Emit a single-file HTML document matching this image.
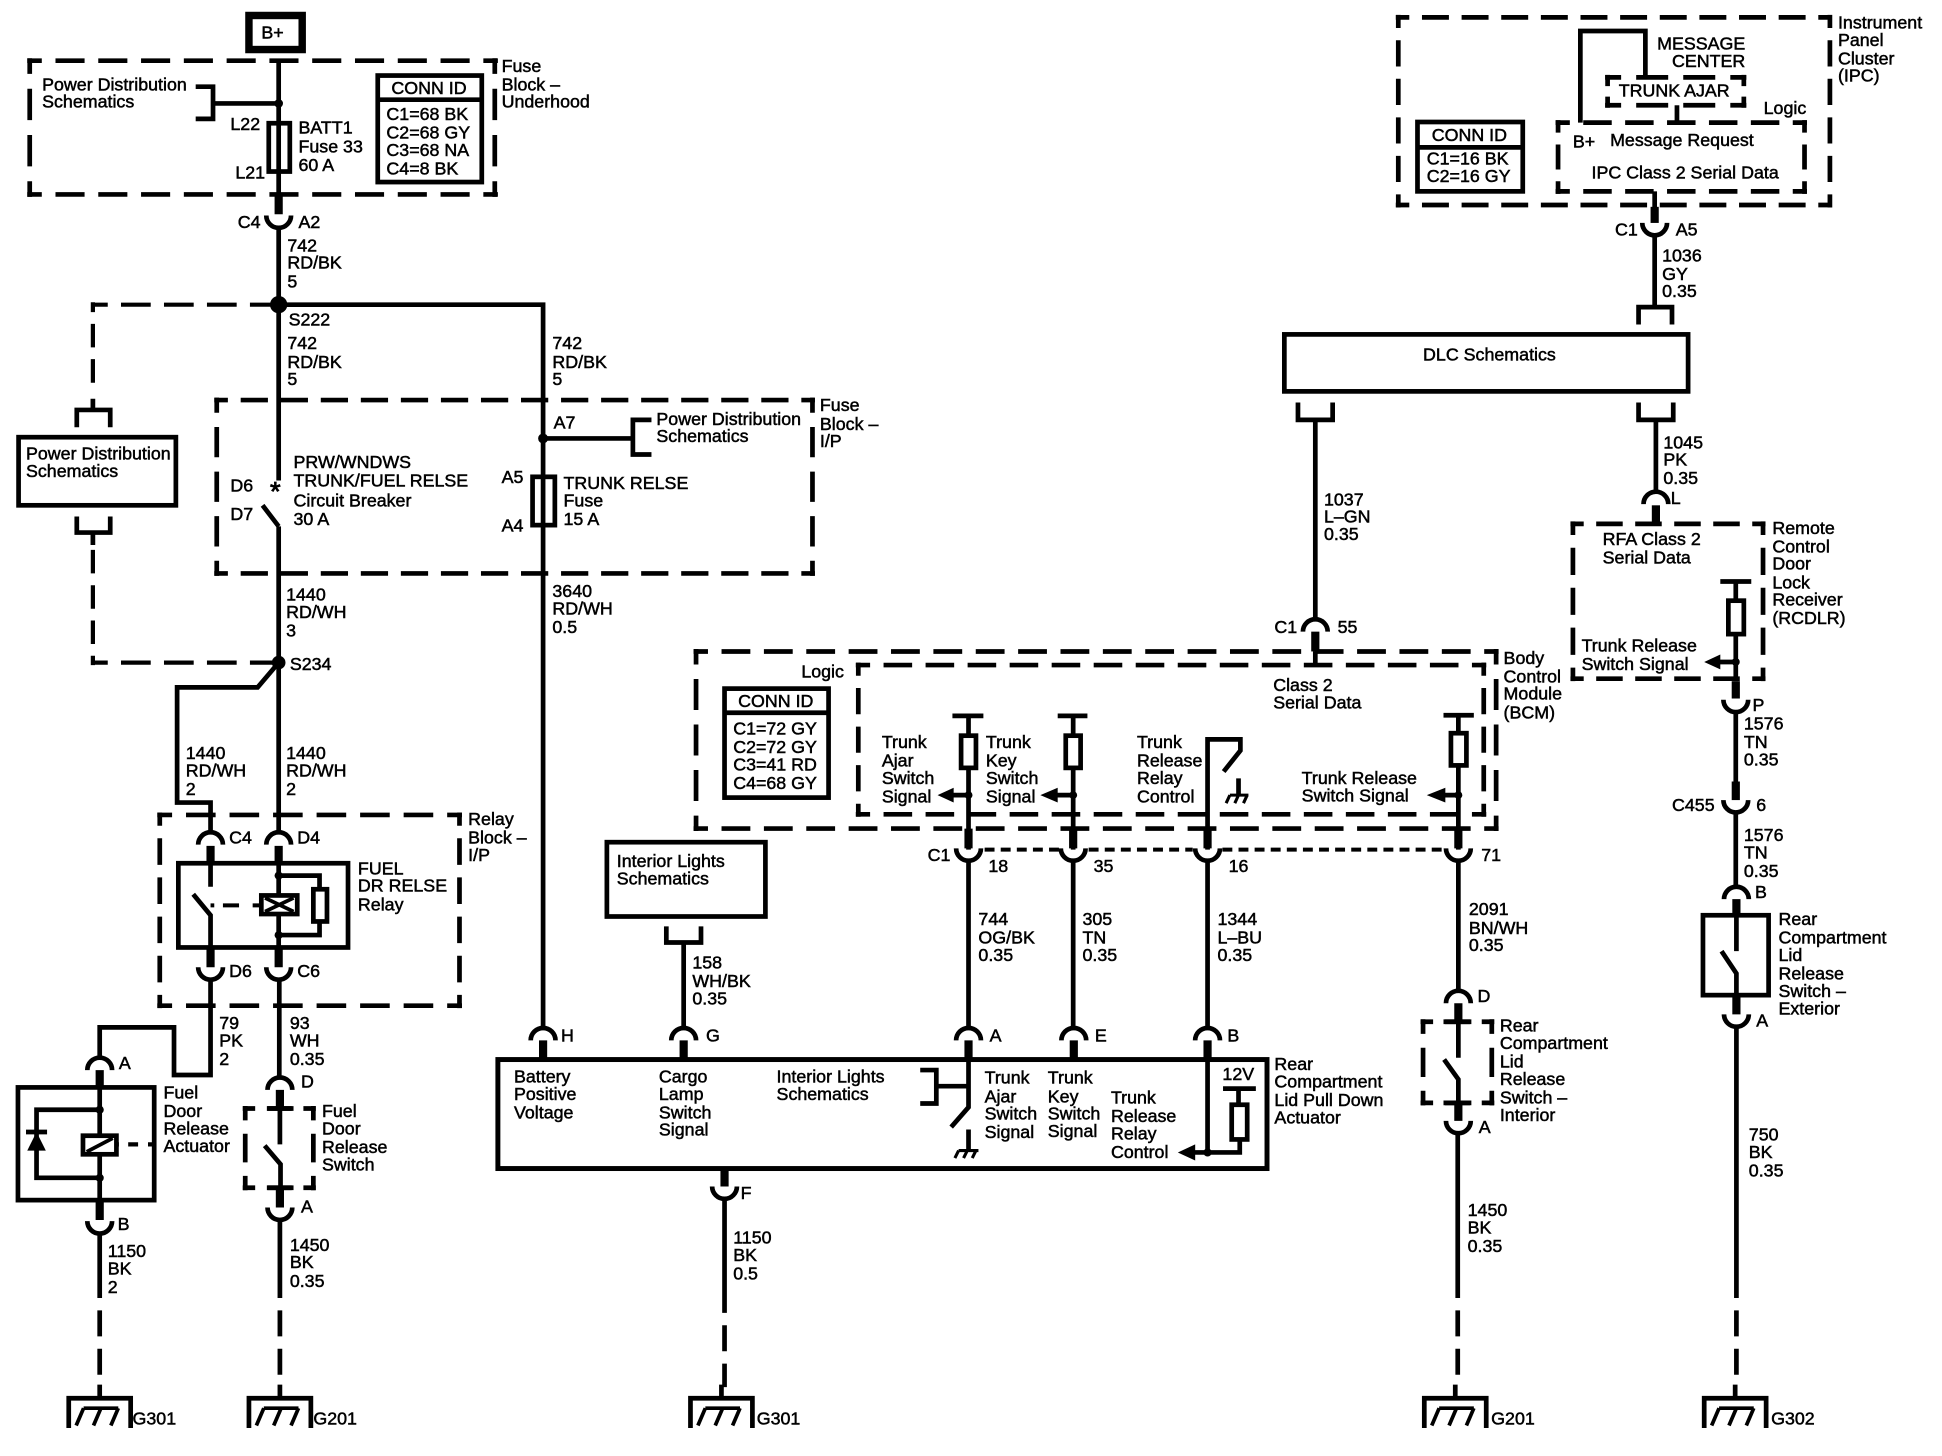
<!DOCTYPE html>
<html><head><meta charset="utf-8"><style>
html,body{margin:0;padding:0;background:#fff}
svg{display:block}
text{font-family:"Liberation Sans",sans-serif;font-size:14.4px;fill:#000;stroke:#000;stroke-width:.4}
.w{fill:none;stroke:#000;stroke-width:3.8}
.t{fill:none;stroke:#000;stroke-width:6.6}
.d{fill:none;stroke:#000;stroke-width:3.8;stroke-dasharray:.68 .32;stroke-dashoffset:.34}
.s{fill:none;stroke:#000;stroke-width:3}
.f{fill:#000;stroke:none}
.g{fill:none;stroke:#000;stroke-width:3.8;stroke-dasharray:21 10}
</style></head><body>
<svg width="1942" height="1456" viewBox="0 0 1568 1175.6" preserveAspectRatio="none" xmlns="http://www.w3.org/2000/svg">
<defs>
<path id="u" class="w" d="M-10,-4 A10,10 0 0 0 10,-4"/>
<path id="n" class="w" d="M-10,4 A10,10 0 0 1 10,4"/>
<g id="g"><path class="w" d="M0,1118V1129M-25,1153V1129H25V1153"/><path class="s" d="M-13,1137H15M-13,1137L-19,1151M1,1137L-5,1151M15,1137L9,1151"/></g>
</defs>
<rect width="1568" height="1176" fill="#fff"/>

<!-- B+ and fuse block -->
<rect x="201" y="12.5" width="43" height="27.5" class="w" style="stroke-width:6"/>
<text x="211" y="31">B+</text>
<path class="d" pathLength="11" d="M22,49H402"/><path class="d" pathLength="11" d="M22,157H402"/>
<path class="d" pathLength="3" d="M24,47V159"/><path class="d" pathLength="3" d="M399.5,47V159"/>
<path class="w" d="M225,49V160"/>
<path class="t" d="M225,157V173"/>
<use href="#u" x="225" y="178"/>
<path class="w" d="M225,183V246"/>
<text x="34" y="73">Power Distribution</text><text x="34" y="87">Schematics</text>
<path class="w" d="M158,70H172V96H158M172,83.5H225"/><circle class="f" cx="225" cy="83.5" r="3.5"/>
<text x="186" y="105">L22</text><text x="190" y="144">L21</text>
<rect x="217" y="99.5" width="17" height="39" class="w"/>
<text x="241" y="108">BATT1</text><text x="241" y="123">Fuse 33</text><text x="241" y="138">60 A</text>
<rect x="305" y="61" width="84" height="86" class="w"/><path class="w" d="M305,80.5H389"/>
<text x="316" y="76">CONN ID</text>
<text x="312" y="97">C1=68 BK</text><text x="312" y="112">C2=68 GY</text><text x="312" y="126">C3=68 NA</text><text x="312" y="141">C4=8 BK</text>
<text x="405" y="58">Fuse</text><text x="405" y="73">Block –</text><text x="405" y="87">Underhood</text>
<text x="192" y="184">C4</text><text x="241" y="184">A2</text>
<text x="232" y="203">742</text><text x="232" y="217">RD/BK</text><text x="232" y="232">5</text>

<!-- S222 -->
<circle class="f" cx="225" cy="246" r="7"/>
<path class="w" d="M225,246H438.5V831"/>
<path class="w" style="stroke-width:3.4;stroke-dasharray:24 10.7;stroke-dashoffset:12" d="M75,246H225"/>
<path class="w" style="stroke-width:3.4;stroke-dasharray:19 9.5;stroke-dashoffset:11" d="M75,244V313"/>
<path class="w" d="M75,322V331M62,345V331H89V345"/>
<rect x="15" y="353" width="127" height="55" class="w"/>
<text x="21" y="371">Power Distribution</text><text x="21" y="385">Schematics</text>
<path class="w" d="M62,417V430H89V417M75,430V440"/>
<path class="w" style="stroke-width:3.4;stroke-dasharray:19 9.5;stroke-dashoffset:-4" d="M75,440V537"/>
<path class="w" style="stroke-width:3.4;stroke-dasharray:24 10.7;stroke-dashoffset:12" d="M75,535H225"/>
<text x="233" y="263">S222</text>
<text x="232" y="282">742</text><text x="232" y="297">RD/BK</text><text x="232" y="311">5</text>
<text x="446" y="282">742</text><text x="446" y="297">RD/BK</text><text x="446" y="311">5</text>

<!-- Fuse block IP -->
<path class="d" pathLength="15" d="M173,323H658"/><path class="d" pathLength="15" d="M173,463H658"/>
<path class="d" pathLength="4" d="M175,321V465"/><path class="d" pathLength="4" d="M656,321V465"/>
<path class="w" d="M225,246V388M225,425V672M212,408L225,425"/>
<text x="218" y="404" style="font-size:22px;stroke-width:.7">*</text>
<text x="186" y="397">D6</text><text x="186" y="420">D7</text>
<text x="237" y="378">PRW/WNDWS</text><text x="237" y="393">TRUNK/FUEL RELSE</text><text x="237" y="409">Circuit Breaker</text><text x="237" y="424">30 A</text>
<text x="447" y="346">A7</text><circle class="f" cx="438.5" cy="354" r="4"/>
<path class="w" d="M438.5,354H511M526,339H511V367H526"/>
<text x="530" y="343">Power Distribution</text><text x="530" y="357">Schematics</text>
<text x="662" y="332">Fuse</text><text x="662" y="347">Block –</text><text x="662" y="361">I/P</text>
<text x="405" y="390">A5</text><text x="405" y="429">A4</text>
<rect x="430" y="385" width="18" height="39" class="w"/>
<text x="455" y="395">TRUNK RELSE</text><text x="455" y="409">Fuse</text><text x="455" y="424">15 A</text>
<text x="231" y="485">1440</text><text x="231" y="499">RD/WH</text><text x="231" y="514">3</text>
<text x="446" y="482">3640</text><text x="446" y="496">RD/WH</text><text x="446" y="511">0.5</text>

<!-- S234 -->
<circle class="f" cx="225" cy="535" r="5.5"/>
<path class="w" d="M225,535L208,555H143V648H170V672"/>
<text x="234" y="541">S234</text>
<text x="150" y="613">1440</text><text x="150" y="627">RD/WH</text><text x="150" y="642">2</text>
<text x="231" y="613">1440</text><text x="231" y="627">RD/WH</text><text x="231" y="642">2</text>

<!-- Relay -->
<path class="d" pathLength="7" d="M127,658H373"/><path class="d" pathLength="7" d="M127,812H373"/>
<path class="d" pathLength="5" d="M129,656V814"/><path class="d" pathLength="5" d="M371,656V814"/>
<text x="378" y="666">Relay</text><text x="378" y="681">Block –</text><text x="378" y="695">I/P</text>
<use href="#n" x="170" y="678"/><use href="#n" x="225" y="678"/>
<text x="185" y="681">C4</text><text x="240" y="681">D4</text>
<rect x="144" y="697" width="137" height="68" class="w"/>
<path class="t" d="M170,683V697M225,683V697M170,765V781M225,765V781"/>
<path class="w" d="M170,697V716M156,722L170,739V765M225,697V765"/>
<path class="w" style="stroke-width:3.2" d="M170,731H173M180,731H193M204,731H212"/>
<rect x="211" y="723" width="29" height="15" class="w" style="fill:#fff"/>
<path class="s" d="M214,725L237,736M214,736L237,725"/>
<path class="w" d="M225,707H258V718M258,744V755H225"/>
<rect x="253" y="718" width="11" height="26" class="w"/>
<circle class="f" cx="225" cy="707" r="3.3"/><circle class="f" cx="225" cy="755" r="3.3"/>
<text x="289" y="706">FUEL</text><text x="289" y="720">DR RELSE</text><text x="289" y="735">Relay</text>
<use href="#u" x="170" y="785"/><use href="#u" x="225" y="785"/>
<text x="185" y="789">D6</text><text x="240" y="789">C6</text>
<text x="177" y="831">79</text><text x="177" y="845">PK</text><text x="177" y="860">2</text>
<text x="234" y="831">93</text><text x="234" y="845">WH</text><text x="234" y="860">0.35</text>

<!-- Actuator -->
<path class="w" d="M170,791V868H140.5V829.5H80.5V854"/>
<use href="#n" x="80.5" y="860"/><text x="96" y="863">A</text>
<rect x="14.5" y="878" width="110" height="91" class="w"/>
<path class="t" d="M80.5,864V878M80.5,969V985"/>
<path class="w" d="M80.5,878V969M80.5,896H29.5V951H80.5"/>
<circle class="f" cx="80.5" cy="896" r="3.3"/><circle class="f" cx="80.5" cy="951" r="3.3"/>
<path class="w" d="M21,914H38"/><path class="f" d="M29.5,914L22,929H37Z"/>
<rect x="67" y="917" width="27" height="15" class="w" style="fill:#fff"/>
<path class="s" d="M70,930L91,919"/>
<path class="w" style="stroke-width:3.4" d="M94,924H96M103.5,924H111.5M119.5,924H125"/>
<text x="132" y="887">Fuel</text><text x="132" y="902">Door</text><text x="132" y="916">Release</text><text x="132" y="930">Actuator</text>
<use href="#u" x="80.5" y="990"/><text x="95" y="993">B</text>
<text x="87" y="1015">1150</text><text x="87" y="1029">BK</text><text x="87" y="1044">2</text>
<path class="w" d="M80.5,996V1048"/><path class="g" d="M80.5,1058V1120"/>
<use href="#g" x="80.5" y="0"/><text x="107" y="1150">G301</text>

<!-- Fuel door switch -->
<path class="w" d="M225.5,791V870"/>
<use href="#n" x="226" y="876"/><text x="243" y="878">D</text>
<path class="t" d="M226,880V895M226,959V975"/>
<path class="d" pathLength="2" d="M196,895H255"/><path class="d" pathLength="2" d="M196,959H255"/>
<path class="d" pathLength="2" d="M198,893V961"/><path class="d" pathLength="2" d="M253,893V961"/>
<path class="w" d="M216,895H237M216,959H237M226,895V924M213.7,925L226.5,940V959"/>
<text x="260" y="902">Fuel</text><text x="260" y="916">Door</text><text x="260" y="931">Release</text><text x="260" y="945">Switch</text>
<use href="#u" x="226" y="979"/><text x="243" y="979">A</text>
<text x="234" y="1010">1450</text><text x="234" y="1024">BK</text><text x="234" y="1039">0.35</text>
<path class="w" d="M226,985V1048"/><path class="g" d="M226,1058V1120"/>
<use href="#g" x="226" y="0"/><text x="253" y="1150">G201</text>

<!-- Interior lights box -->
<rect x="490" y="680" width="128" height="60" class="w"/>
<text x="498" y="700">Interior Lights</text><text x="498" y="714">Schematics</text>
<path class="w" d="M538,748V761H566V748M552,761V831"/>
<text x="559" y="782">158</text><text x="559" y="797">WH/BK</text><text x="559" y="811">0.35</text>

<!-- Actuator big box -->
<use href="#n" x="438.5" y="836"/><use href="#n" x="552" y="836"/><use href="#n" x="782" y="836"/><use href="#n" x="867" y="836"/><use href="#n" x="975" y="836"/>
<text x="453" y="841">H</text><text x="570" y="841">G</text><text x="799" y="841">A</text><text x="884" y="841">E</text><text x="991" y="841">B</text>
<rect x="402" y="855.5" width="621" height="88" class="w" style="stroke-width:4"/>
<path class="t" d="M438.5,840V855M552,840V855M782,840V855M867,840V855M975,840V855M585,944V958"/>
<text x="415" y="874">Battery</text><text x="415" y="888">Positive</text><text x="415" y="903">Voltage</text>
<text x="532" y="874">Cargo</text><text x="532" y="888">Lamp</text><text x="532" y="903">Switch</text><text x="532" y="917">Signal</text>
<text x="627" y="874">Interior Lights</text><text x="627" y="888">Schematics</text>
<path class="w" d="M743,864H756V891H743M756,877H782"/>
<path class="w" d="M782,855V894L768,910M782,912V929"/>
<path class="s" style="stroke-width:2.5" d="M774,929H790M774,929L771,935M781,929L778,935M788,929L785,935"/>
<text x="795" y="875">Trunk</text><text x="795" y="890">Ajar</text><text x="795" y="904">Switch</text><text x="795" y="919">Signal</text>
<text x="846" y="875">Trunk</text><text x="846" y="890">Key</text><text x="846" y="904">Switch</text><text x="846" y="918">Signal</text>
<text x="897" y="891">Trunk</text><text x="897" y="906">Release</text><text x="897" y="920">Relay</text><text x="897" y="935">Control</text>
<path class="w" d="M975,855V930.5M960,930.5H1001V920M1000,892V879M987.5,879H1014"/>
<path class="f" d="M951,930.5L965,924V937Z"/><circle class="f" cx="975" cy="930.5" r="3.3"/>
<rect x="994.5" y="892" width="12.5" height="28" class="w"/>
<text x="987" y="872">12V</text>
<text x="1029" y="864">Rear</text><text x="1029" y="878">Compartment</text><text x="1029" y="893">Lid Pull Down</text><text x="1029" y="907">Actuator</text>
<use href="#u" x="585" y="962"/><text x="598" y="968">F</text>
<path class="w" d="M585,968V1060"/><path class="g" d="M585,1070V1120"/>
<use href="#g" x="582.5" y="0"/><text x="611" y="1150">G301</text>
<text x="592" y="1004">1150</text><text x="592" y="1018">BK</text><text x="592" y="1033">0.5</text>

<!-- BCM -->
<path class="d" pathLength="19" d="M560,526H1210"/><path class="d" pathLength="19" d="M560,669H1210"/>
<path class="d" pathLength="4" d="M562,524V671"/><path class="d" pathLength="4" d="M1208,524V671"/>
<path class="d" pathLength="15" d="M691,537H1200"/><path class="d" pathLength="15" d="M691,657.5H1200"/>
<path class="d" pathLength="4" d="M693,535V659.5"/><path class="d" pathLength="4" d="M1198,535V659.5"/>
<text x="647" y="547">Logic</text>
<rect x="585" y="556" width="84" height="88" class="w"/><path class="w" d="M585,575.5H669"/>
<text x="596" y="571">CONN ID</text>
<text x="592" y="593">C1=72 GY</text><text x="592" y="608">C2=72 GY</text><text x="592" y="622">C3=41 RD</text><text x="592" y="637">C4=68 GY</text>
<text x="1028" y="558">Class 2</text><text x="1028" y="572">Serial Data</text>
<text x="1214" y="536">Body</text><text x="1214" y="551">Control</text><text x="1214" y="565">Module</text><text x="1214" y="580">(BCM)</text>
<text x="712" y="604">Trunk</text><text x="712" y="619">Ajar</text><text x="712" y="633">Switch</text><text x="712" y="648">Signal</text>
<text x="796" y="604">Trunk</text><text x="796" y="619">Key</text><text x="796" y="633">Switch</text><text x="796" y="648">Signal</text>
<text x="918" y="604">Trunk</text><text x="918" y="619">Release</text><text x="918" y="633">Relay</text><text x="918" y="648">Control</text>
<text x="1051" y="633">Trunk Release</text><text x="1051" y="647">Switch Signal</text>
<path class="w" d="M769,578H794M782,578V686M854,578H878M866.5,578V686M1165.5,577.5H1190M1177.5,577.5V686M975,686V597H1001.5V606L988,623"/>
<rect x="776" y="594" width="12" height="26" class="w" style="fill:#fff"/><rect x="860.5" y="594" width="12" height="26" class="w" style="fill:#fff"/><rect x="1171.5" y="592" width="12.5" height="26" class="w" style="fill:#fff"/>
<path class="w" d="M765,642H782M850,642H866.5M1162,642H1177.5M1000,628.5V642"/>
<path class="s" style="stroke-width:2.5" d="M993,642H1008M993,642L990,648.5M1000,642L997,648.5M1007,642L1004,648.5"/>
<path class="f" d="M757,642L770,636V648Z"/><path class="f" d="M840,642L854,636V648Z"/><path class="f" d="M1152,642L1167,636V648Z"/>
<circle class="f" cx="782" cy="642" r="3.2"/><circle class="f" cx="866.5" cy="642" r="3.2"/><circle class="f" cx="1177.5" cy="642" r="3.2"/>
<path class="t" d="M782,669V685M866.5,669V685M975,669V685M1177.5,669V685"/>
<use href="#u" x="782" y="689"/><use href="#u" x="866.5" y="689"/><use href="#u" x="975" y="689"/><use href="#u" x="1177.5" y="689"/>
<path class="s" style="stroke-dasharray:8 5;stroke-width:3.2" d="M795,686H855M879,686H963M987,686H1166"/>
<text x="749" y="695">C1</text><text x="798" y="704">18</text><text x="883" y="704">35</text><text x="992" y="704">16</text><text x="1196" y="695">71</text>
<path class="w" d="M782,695V831M866.5,695V831M975,695V831M1177.5,695V800"/>
<text x="790" y="747">744</text><text x="790" y="762">OG/BK</text><text x="790" y="776">0.35</text>
<text x="874" y="747">305</text><text x="874" y="762">TN</text><text x="874" y="776">0.35</text>
<text x="983" y="747">1344</text><text x="983" y="762">L–BU</text><text x="983" y="776">0.35</text>
<text x="1186" y="739">2091</text><text x="1186" y="754">BN/WH</text><text x="1186" y="768">0.35</text>

<!-- Rear compartment interior switch -->
<use href="#n" x="1177.5" y="806"/><text x="1193" y="809">D</text>
<path class="t" d="M1177.5,810V825M1177.5,891V905"/>
<path class="d" pathLength="2" d="M1147,825H1206.5"/><path class="d" pathLength="2" d="M1147,890.5H1206.5"/>
<path class="d" pathLength="2" d="M1149,823V892.5"/><path class="d" pathLength="2" d="M1204.5,823V892.5"/>
<path class="w" d="M1165.5,825H1188M1165.5,890.5H1188M1177.5,825V854M1166,855.5L1177.5,871.5V890.5"/>
<text x="1211" y="833">Rear</text><text x="1211" y="847">Compartment</text><text x="1211" y="862">Lid</text><text x="1211" y="876">Release</text><text x="1211" y="891">Switch –</text><text x="1211" y="905">Interior</text>
<use href="#u" x="1177.5" y="909"/><text x="1194" y="915">A</text>
<text x="1185" y="982">1450</text><text x="1185" y="996">BK</text><text x="1185" y="1011">0.35</text>
<path class="w" d="M1177,915V1048"/><path class="g" d="M1177,1058V1120"/>
<use href="#g" x="1175" y="0"/><text x="1204" y="1150">G201</text>

<!-- IPC -->
<path class="d" pathLength="11" d="M1127,14H1479"/><path class="d" pathLength="11" d="M1127,165.5H1479"/>
<path class="d" pathLength="5" d="M1129,12V167.5"/><path class="d" pathLength="5" d="M1477.5,12V167.5"/>
<text x="1484" y="23">Instrument</text><text x="1484" y="37">Panel</text><text x="1484" y="52">Cluster</text><text x="1484" y="66">(IPC)</text>
<path class="w" d="M1276,99V25H1328.5V62"/>
<text x="1338" y="40">MESSAGE</text><text x="1350" y="54">CENTER</text>
<path class="d" pathLength="3" d="M1296,62.5H1410"/><path class="d" pathLength="3" d="M1296,85H1410"/>
<path class="d" pathLength="1" d="M1298,60.5V87"/><path class="d" pathLength="1" d="M1408,60.5V87"/>
<text x="1307" y="78">TRUNK AJAR</text>
<path class="w" d="M1354,85V99"/>
<text x="1424" y="92">Logic</text>
<path class="d" pathLength="6" d="M1256,99H1459"/><path class="d" pathLength="6" d="M1256,154.5H1459"/>
<path class="d" pathLength="2" d="M1258,97V156.5"/><path class="d" pathLength="2" d="M1457,97V156.5"/>
<text x="1270" y="119">B+</text><text x="1300" y="118">Message Request</text><text x="1285" y="144">IPC Class 2 Serial Data</text>
<rect x="1144.5" y="98.5" width="85" height="56" class="w"/><path class="w" d="M1144.5,119H1229.5"/>
<text x="1156" y="114">CONN ID</text><text x="1152" y="133">C1=16 BK</text><text x="1152" y="147">C2=16 GY</text>
<path class="w" d="M1336,154.5V168"/><path class="t" d="M1336,167V180"/>
<use href="#u" x="1336" y="184"/>
<text x="1304" y="190">C1</text><text x="1353" y="190">A5</text>
<path class="w" d="M1336,190V248M1323,262V248H1350V262"/>
<text x="1342" y="211">1036</text><text x="1342" y="226">GY</text><text x="1342" y="240">0.35</text>

<!-- DLC -->
<rect x="1037" y="270" width="326" height="46" class="w"/>
<text x="1149" y="291">DLC Schematics</text>
<path class="w" d="M1048,325V339H1076V325M1062,339V500M1323,325V339H1351V325M1337,339V397"/>
<text x="1343" y="362">1045</text><text x="1343" y="376">PK</text><text x="1343" y="391">0.35</text>
<text x="1069" y="408">1037</text><text x="1069" y="422">L–GN</text><text x="1069" y="436">0.35</text>
<use href="#n" x="1062" y="506"/><path class="t" d="M1062,510V526"/><path class="w" d="M1062,526V537"/>
<text x="1029" y="511">C1</text><text x="1080" y="511">55</text>

<!-- RCDLR -->
<use href="#n" x="1337" y="403"/><text x="1349" y="407">L</text>
<path class="t" d="M1337,408V423"/>
<path class="d" pathLength="5" d="M1268,423H1425.5"/><path class="d" pathLength="5" d="M1268,548H1425.5"/>
<path class="d" pathLength="4" d="M1270,421V550"/><path class="d" pathLength="4" d="M1423.5,421V550"/>
<text x="1294" y="440">RFA Class 2</text><text x="1294" y="455">Serial Data</text>
<text x="1431" y="431">Remote</text><text x="1431" y="446">Control</text><text x="1431" y="460">Door</text><text x="1431" y="475">Lock</text><text x="1431" y="489">Receiver</text><text x="1431" y="504">(RCDLR)</text>
<text x="1277" y="526">Trunk Release</text><text x="1277" y="541">Switch Signal</text>
<path class="w" d="M1389,469.5H1414M1401.5,469.5V550M1385,534.5H1401.5"/>
<rect x="1395.5" y="485" width="12.5" height="27" class="w" style="fill:#fff"/>
<path class="f" d="M1376,534.5L1389,528.5V540.5Z"/><circle class="f" cx="1401.5" cy="534.5" r="3.2"/>
<path class="t" d="M1401.5,550V564"/>
<use href="#u" x="1401.5" y="569"/><text x="1415" y="574">P</text>
<text x="1408" y="589">1576</text><text x="1408" y="604">TN</text><text x="1408" y="618">0.35</text>
<path class="w" d="M1401.5,575V632"/><path class="t" d="M1401.5,631V646"/>
<use href="#u" x="1401.5" y="650"/>
<text x="1350" y="655">C455</text><text x="1418" y="655">6</text>
<path class="w" d="M1401.5,656V716"/>
<text x="1408" y="679">1576</text><text x="1408" y="693">TN</text><text x="1408" y="708">0.35</text>
<use href="#n" x="1402" y="722"/><text x="1417" y="725">B</text>
<rect x="1375" y="739" width="53" height="64.5" class="w"/>
<path class="t" d="M1402,726V740M1402,804V819"/>
<path class="w" d="M1402,739V768M1390,768L1402,786V804"/>
<text x="1436" y="747">Rear</text><text x="1436" y="762">Compartment</text><text x="1436" y="776">Lid</text><text x="1436" y="791">Release</text><text x="1436" y="805">Switch –</text><text x="1436" y="819">Exterior</text>
<use href="#u" x="1402" y="823"/><text x="1418" y="829">A</text>
<text x="1412" y="921">750</text><text x="1412" y="935">BK</text><text x="1412" y="950">0.35</text>
<path class="w" d="M1402,829V1048"/><path class="g" d="M1402,1058V1120"/>
<use href="#g" x="1401" y="0"/><text x="1430" y="1150">G302</text>
</svg>
</body></html>
